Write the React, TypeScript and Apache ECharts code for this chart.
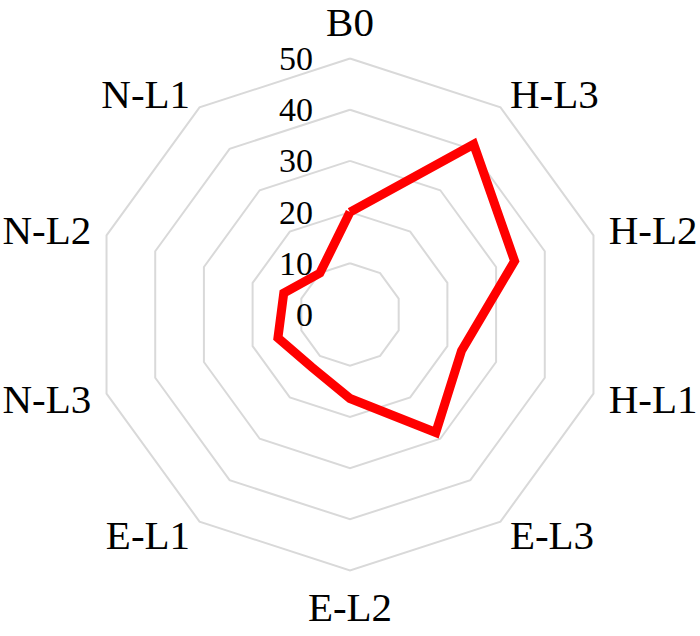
import { useEffect, useRef } from 'react'
import * as echarts from 'echarts'

// indicators in ECharts order (counter-clockwise from the top)
const indicatorNames = ['B0', 'N-L1', 'N-L2', 'N-L3', 'E-L1', 'E-L2', 'E-L3', 'H-L1', 'H-L2', 'H-L3']
const values = [20, 10, 13.6, 14.8, 12.7, 16.4, 28.5, 22.9, 33.8, 41.1]
const axisMin = 0
const axisMax = 50
const splitCount = 5

const serif = 'Liberation Serif, Times New Roman, serif'

export const App = () => {
  const chartRef = useRef(null)

  useEffect(() => {
    const chart = echarts.init(chartRef.current, null, { renderer: 'svg' })

    const indicator = indicatorNames.map((name, i) => {
      const item: any = { name, min: axisMin, max: axisMax }
      if (i === 0) {
        // tick labels only on the vertical axis
        item.axisLabel = {
          show: true,
          color: '#000',
          fontSize: 34,
          fontFamily: serif,
          margin: 37
        }
      }
      return item
    })

    const option = {
      animation: false,
      radar: {
        center: [350, 314.5],
        radius: 256,
        startAngle: 90,
        shape: 'polygon',
        splitNumber: splitCount,
        indicator,
        nameGap: 16,
        axisName: {
          color: '#000',
          fontSize: 41,
          fontFamily: serif
        },
        axisLine: { show: false },
        axisTick: { show: false },
        axisLabel: { show: false },
        splitArea: { show: false },
        splitLine: {
          lineStyle: { color: '#d9d9d9', width: 2 }
        }
      },
      series: [
        {
          type: 'radar',
          symbol: 'none',
          lineStyle: { color: '#ff0000', width: 9, join: 'miter' },
          data: [{ value: values }]
        }
      ]
    }

    chart.setOption(option)

    return () => {
      chart.dispose()
    }
  }, [])

  return (
    <div
      ref={chartRef}
      style={{ position: 'absolute', left: 0, top: 0, width: '700px', height: '636px' }}
    />
  )
}

export default App
